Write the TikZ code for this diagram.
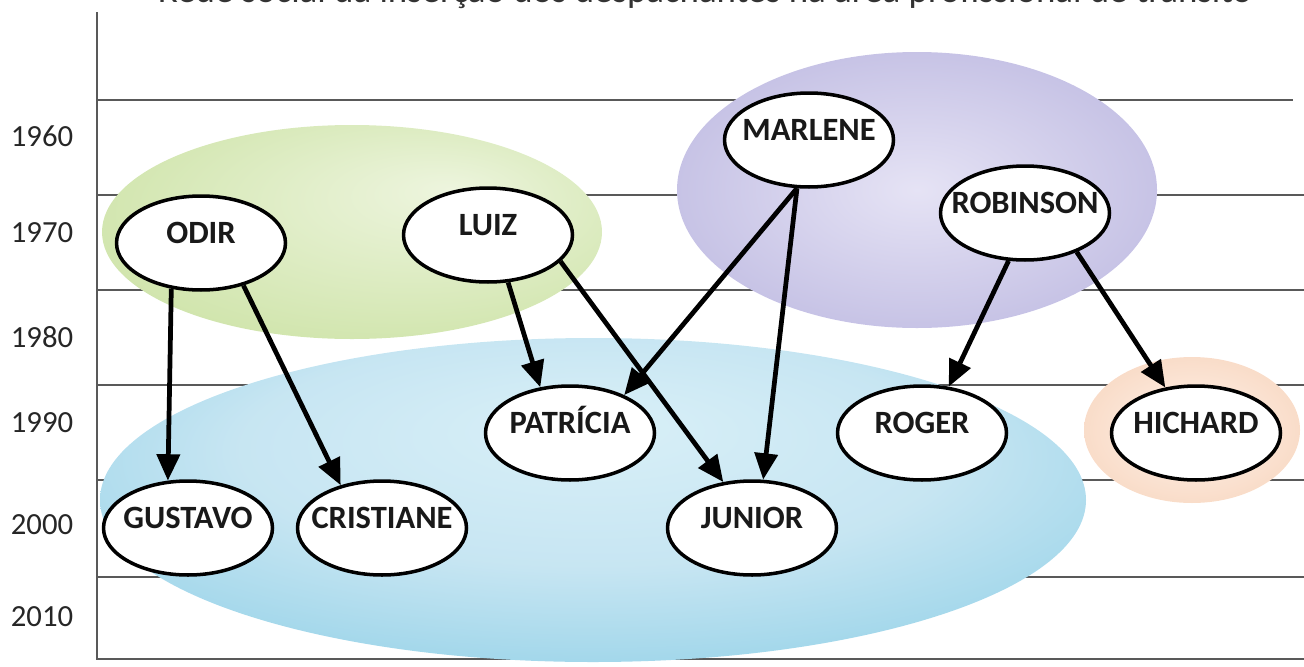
\documentclass[tikz,border=0pt]{standalone}
\usepackage{fontspec}
\setmainfont{Carlito}
\usetikzlibrary{shapes.geometric,arrows.meta}

% soft coloured groups behind the people
\pgfdeclareradialshading{greenblob}{\pgfpoint{10bp}{10bp}}{rgb(0bp)=(0.93,0.96,0.87); rgb(50bp)=(0.75,0.86,0.56)}
\pgfdeclareradialshading{purpleblob}{\pgfpoint{0bp}{0bp}}{rgb(0bp)=(0.90,0.89,0.96); rgb(50bp)=(0.66,0.64,0.84)}
\pgfdeclareradialshading{blueblob}{\pgfpoint{0bp}{12bp}}{rgb(0bp)=(0.85,0.94,0.97); rgb(18bp)=(0.78,0.90,0.95); rgb(50bp)=(0.40,0.75,0.87)}
\pgfdeclareradialshading{orangeblob}{\pgfpoint{0bp}{0bp}}{rgb(0bp)=(1,0.95,0.92); rgb(32bp)=(0.97,0.84,0.75); rgb(45bp)=(0.95,0.72,0.57); rgb(50bp)=(0.97,0.82,0.72)}

\begin{document}
\begin{tikzpicture}[x=0.02cm,y=-0.02cm,
  person/.style={ellipse,draw,line width=2pt,fill=white,minimum width=3.38cm,
    minimum height=1.88cm,inner xsep=-8pt,inner ysep=0pt,text height=0pt,text depth=0pt,
    font=\bfseries\fontsize{18.5}{21}\selectfont,text=black!90},
  year/.style={font=\fontsize{17.5}{20}\selectfont,text=black!85},
  grid/.style={line width=0.8pt,black!65},
  arr/.style={line width=2.7pt,-{Triangle[length=15pt,width=13pt]}}]
  \useasboundingbox (0,0) rectangle (1304,666);
  \clip (0,0) rectangle (1304,666);
  % title, cut at the top edge
  \node[anchor=base,font=\fontsize{21}{24}\selectfont,text=black!80] (title) at (705,3)
    {Rede social da inserção dos despachantes na área profissional de trânsito};
  % time axis and decade lines
  \foreach \yy in {195,290,385,480,577}
    \draw[grid] (97,\yy) -- (1304,\yy);
  \draw[grid] (97,100) -- (1293,100);
  \draw[grid] (97,12) -- (97,659) -- (1304,659);
  \foreach \yr/\yy in {1960/136,1970/233,1980/337,1990/423,2000/525,2010/617}
    \node[year] (y\yr) at (42,\yy) {\yr};
  % groups
  \shade[shading=greenblob] (352,232) ellipse [x radius=250,y radius=107];
  \shade[shading=purpleblob] (917,190) ellipse [x radius=240,y radius=138];
  \shade[shading=blueblob] (593,500) ellipse [x radius=493,y radius=162];
  \shade[shading=orangeblob] (1192,430) ellipse [x radius=108,y radius=73];
  % people
  \node[person] (odir) at (201,243) {ODIR};
  \node[person] (luiz) at (488,235) {LUIZ};
  \node[person] (marlene) at (809,140) {MARLENE};
  \node[person] (robinson) at (1025,213) {ROBINSON};
  \node[person] (patricia) at (570,433) {PATRÍCIA};
  \node[person] (roger) at (922,433) {ROGER};
  \node[person] (hichard) at (1196,433) {HICHARD};
  \node[person] (gustavo) at (188,528) {GUSTAVO};
  \node[person] (cristiane) at (382,528) {CRISTIANE};
  \node[person] (junior) at (752,528) {JUNIOR};
  % who brought whom into the profession
  \draw[arr] (odir.-123) -- (gustavo.113);
  \draw[arr] (odir.-45) -- (cristiane.134);
  \draw[arr] (luiz.-67) -- (patricia.123);
  \draw[arr] (luiz.-20) -- (junior.122);
  \draw[arr] (marlene.-104) -- (patricia.35);
  \draw[arr] (marlene.-104) -- (junior.77);
  \draw[arr] (robinson.-109) -- (roger.60);
  \draw[arr] (robinson.-37) -- (hichard.124);
\end{tikzpicture}
\end{document}
